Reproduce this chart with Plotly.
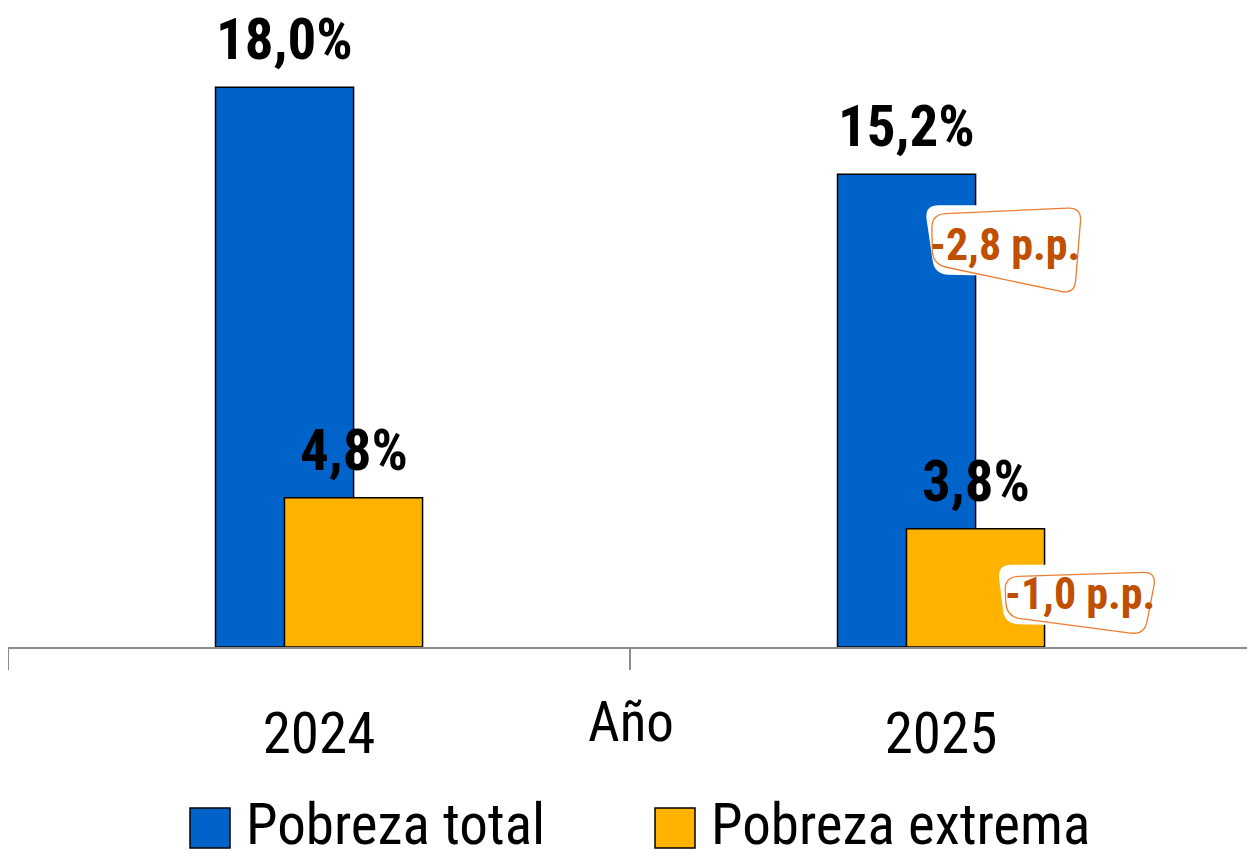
import plotly.graph_objects as go

# ---- data ----
years = ["2024", "2025"]
pobreza_total = [18.0, 15.2]
pobreza_extrema = [4.8, 3.8]
labels_total = ["18,0%", "15,2%"]
labels_extrema = ["4,8%", "3,8%"]
cambio_labels = ["-2,8 p.p.", "-1,0 p.p."]
series_names = ["Pobreza total", "Pobreza extrema"]
axis_title = "Año"

BLUE = "#0063CA"
YELLOW = "#FFB300"
BROWN = "#C04F00"
ORANGE = "#ED7D31"
FONT = "Roboto Condensed, Roboto, sans-serif"

# page body has an 8px margin -> figure is placed at (8, 8)
W, H = 1247, 850
ML, MR, MT, MB = 0, 3, 0, 211
YMAX = 20.55

BAR_W = 0.222
OFF_T = -0.1664
OFF_E = -0.0555

fig = go.Figure()
fig.add_trace(go.Bar(x=years, y=pobreza_total, name=series_names[0], width=BAR_W, offset=OFF_T,
                     marker=dict(color=BLUE, line=dict(color="black", width=1.5)), showlegend=False))
fig.add_trace(go.Bar(x=years, y=pobreza_extrema, name=series_names[1], width=BAR_W, offset=OFF_E,
                     marker=dict(color=YELLOW, line=dict(color="black", width=1.5)), showlegend=False))

ann = []
shapes = []
LBL_FONT = dict(family=FONT, size=57, color="black", weight="bold")
for i in range(len(years)):
    ann.append(dict(x=i + OFF_T + BAR_W / 2, y=pobreza_total[i], xref="x", yref="y", text=labels_total[i],
                    showarrow=False, yanchor="bottom", yshift=13, borderpad=0, font=LBL_FONT))
    ann.append(dict(x=i + OFF_E + BAR_W / 2, y=pobreza_extrema[i], xref="x", yref="y", text=labels_extrema[i],
                    showarrow=False, yanchor="bottom", yshift=13, borderpad=0, font=LBL_FONT))


def rounded_path(pts, r=10):
    n = len(pts)
    segs = []
    for k in range(n):
        p0 = pts[k - 1]
        p1 = pts[k]
        p2 = pts[(k + 1) % n]

        def toward(a, b, d):
            dx, dy = b[0] - a[0], b[1] - a[1]
            L = (dx * dx + dy * dy) ** 0.5
            return (a[0] + dx / L * d, a[1] + dy / L * d)
        segs.append((toward(p1, p0, r), p1, toward(p1, p2, r)))
    d = "M %.1f,%.1f " % segs[0][0]
    for k, (a, c, b) in enumerate(segs):
        if k > 0:
            d += "L %.1f,%.1f " % a
        d += "Q %.1f,%.1f %.1f,%.1f " % (c[0], c[1], b[0], b[1])
    d += "Z"
    return d


# change boxes (pixel offsets relative to the top-right corner of the 2025 bars)
boxes = [
    dict(xa=1 + OFF_T + BAR_W, ya=pobreza_total[1], txt=cambio_labels[0], tx=29, ty=-71,
         fill=[(-51, -31), (102, -31), (99, -103), (-41, -100)],
         line=[(-44, -40), (106, -33), (99, -120), (-43, -90)]),
    dict(xa=1 + OFF_E + BAR_W, ya=pobreza_extrema[1], txt=cambio_labels[1], tx=35, ty=-65,
         fill=[(-47, -36), (105, -36), (100, -98), (-40, -95)],
         line=[(-40, -48), (112, -43), (100, -106), (-38, -88)]),
]
for b in boxes:
    shapes.append(dict(type="path", xref="x", yref="y", xsizemode="pixel", ysizemode="pixel",
                       xanchor=b["xa"], yanchor=b["ya"], path=rounded_path(b["fill"], 14),
                       fillcolor="white", line=dict(width=0), layer="above"))
    shapes.append(dict(type="path", xref="x", yref="y", xsizemode="pixel", ysizemode="pixel",
                       xanchor=b["xa"], yanchor=b["ya"], path=rounded_path(b["line"], 14),
                       fillcolor="rgba(0,0,0,0)", line=dict(color=ORANGE, width=1.3), layer="above"))
    ann.append(dict(x=b["xa"], y=b["ya"], xref="x", yref="y", text=b["txt"], showarrow=False,
                    xanchor="center", yanchor="middle", xshift=b["tx"], yshift=b["ty"],
                    font=dict(family=FONT, size=44, color=BROWN, weight="bold")))

# page-pixel -> paper helpers
pw = W - ML - MR
ph = H - MT - MB


def px_x(px):
    return (px - 8 - ML) / pw


def px_y(py):
    return (H - MB - (py - 8)) / ph


ann.append(dict(x=px_x(631), y=px_y(722), xref="paper", yref="paper", text=axis_title, showarrow=False,
                xanchor="center", yanchor="middle", font=dict(family=FONT, size=55, color="black")))

# manual legend (big square swatches)
legend_items = [(series_names[0], BLUE, 190), (series_names[1], YELLOW, 655)]
for name, col, lx in legend_items:
    shapes.append(dict(type="rect", xref="paper", yref="paper", x0=px_x(lx), x1=px_x(lx + 40),
                       y0=px_y(848), y1=px_y(808), fillcolor=col, line=dict(color="black", width=1.5)))
    ann.append(dict(x=px_x(lx + 55), y=px_y(824), xref="paper", yref="paper", text=name, showarrow=False,
                    xanchor="left", yanchor="middle", height=56, borderpad=0,
                    font=dict(family=FONT, size=57, color="black")))

fig.update_layout(
    width=W, height=H, barmode="overlay",
    margin=dict(l=ML, r=MR, t=MT, b=MB, autoexpand=False),
    plot_bgcolor="white", paper_bgcolor="white",
    annotations=ann, shapes=shapes, showlegend=False,
)
fig.update_xaxes(type="category", range=[-0.5, 1.5], tickson="boundaries", ticks="outside", ticklen=21,
                 tickcolor="#8C8C8C", tickwidth=2, showline=True, linecolor="#8C8C8C", linewidth=2,
                 showgrid=False, tickfont=dict(family=FONT, size=57, color="black"), ticklabelstandoff=36)
fig.update_yaxes(range=[0, YMAX], visible=False, showgrid=False)

fig.write_html("out.html")
